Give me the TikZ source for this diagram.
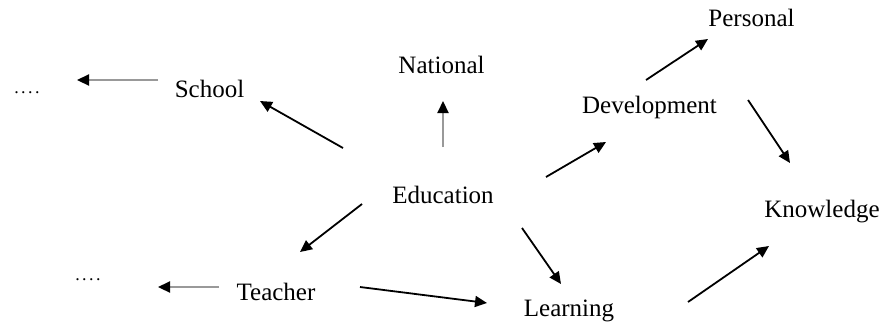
\documentclass[tikz,border=0pt]{standalone}
\usepackage{fontspec}
\setmainfont{Liberation Serif}
\usetikzlibrary{arrows.meta}
\tikzset{
  lbl/.style={anchor=base, inner sep=0pt, font=\fontsize{25}{30}\selectfont},
  dotslbl/.style={anchor=base, inner sep=0pt, font=\fontsize{18}{20}\selectfont},
  arr/.style={line width=1.8pt, -{Triangle[length=12pt,width=11pt]}},
  garr/.style={line width=2.2pt, draw=black!40, -{Triangle[length=12pt,width=11pt,fill=black,color=black]}}
}
\begin{document}
\begin{tikzpicture}[x=1pt,y=-1pt]
\useasboundingbox (0,0) rectangle (885,325);
% nodes
\node[dotslbl] (d1) at (27,93) {.\kern2.5pt.\kern2.5pt.\kern2.5pt.};
\node[lbl] (school) at (209.5,97.5) {School};
\node[lbl] (national) at (441.5,73) {National};
\node[lbl] (dev) at (649.5,113) {Development};
\node[lbl] (personal) at (751.5,26) {Personal};
\node[lbl] (know) at (822,217) {Knowledge};
\node[lbl] (edu) at (443,203) {Education};
\node[lbl] (teacher) at (276,300) {Teacher};
\node[lbl] (learn) at (569,316) {Learning};
\node[dotslbl] (d2) at (88,280) {.\kern2.5pt.\kern2.5pt.\kern2.5pt.};
% arrow end points
\coordinate (a1s) at (158,80);  \coordinate (a1e) at (77,80);
\coordinate (a2s) at (343,148); \coordinate (a2e) at (260,101);
\coordinate (a3s) at (443,147); \coordinate (a3e) at (443,101);
\coordinate (a4s) at (546,177); \coordinate (a4e) at (606,142);
\coordinate (a5s) at (646,80);  \coordinate (a5e) at (708,39);
\coordinate (a6s) at (748,100); \coordinate (a6e) at (790,163);
\coordinate (a7s) at (688,302); \coordinate (a7e) at (769,246);
\coordinate (a8s) at (362,204); \coordinate (a8e) at (300,252);
\coordinate (a9s) at (219,287); \coordinate (a9e) at (158,287);
\coordinate (a10s) at (360,287); \coordinate (a10e) at (487,303);
\coordinate (a11s) at (522,228); \coordinate (a11e) at (561,284);
% connectors
\draw[garr] (a1s) -- (a1e);
\draw[arr] (a2s) -- (a2e);
\draw[garr] (a3s) -- (a3e);
\draw[arr] (a4s) -- (a4e);
\draw[arr] (a5s) -- (a5e);
\draw[arr] (a6s) -- (a6e);
\draw[arr] (a7s) -- (a7e);
\draw[arr] (a8s) -- (a8e);
\draw[garr] (a9s) -- (a9e);
\draw[arr] (a10s) -- (a10e);
\draw[arr] (a11s) -- (a11e);
\end{tikzpicture}
\end{document}
